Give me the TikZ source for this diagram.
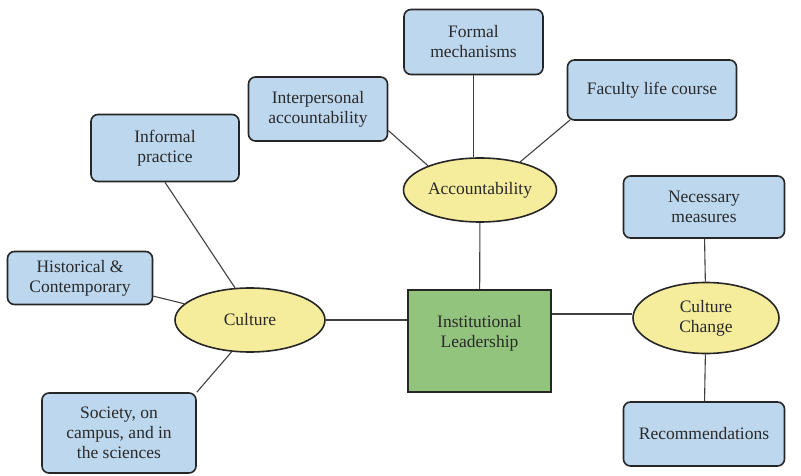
\documentclass[tikz,border=0pt]{standalone}
\usepackage{fontspec}
\setmainfont{Liberation Serif}
\usetikzlibrary{shapes.geometric}
\definecolor{boxblue}{HTML}{BDD7EE}
\definecolor{ellyel}{HTML}{F5EC9C}
\definecolor{boxgreen}{HTML}{93C47D}
\definecolor{txt}{HTML}{2A2A2A}
\begin{document}
\begin{tikzpicture}[x=1pt,y=-1pt,
  label text/.style={align=center, font=\fontsize{17.5}{20}\selectfont, text=txt},
  leaf/.style={draw=black!85, line width=1.6pt, fill=boxblue, rounded corners=7pt, label text, inner sep=0pt},
  hub/.style={draw=black!85, line width=1.6pt, fill=ellyel, ellipse, label text, inner sep=0pt},
  core/.style={draw=black!85, line width=1.8pt, fill=boxgreen, inner sep=0pt},
  link/.style={draw=black!75, line width=1.1pt}]
\useasboundingbox (0,0) rectangle (801,476);
\node[core, minimum width=143pt, minimum height=102pt] (lead) at (479.5,341) {};
\node[label text, inner sep=0pt] (leadtxt) at ([yshift=8pt]lead.center) {Institutional\\Leadership};
\node[hub, minimum width=150pt, minimum height=64pt] (cult) at (250,320) {Culture};
\node[hub, minimum width=153pt, minimum height=64pt] (acc) at (480,190) {Accountability};
\node[hub, minimum width=146pt, minimum height=71pt] (cc) at (706,318) {Culture\\Change};
\node[leaf, minimum width=139pt, minimum height=65pt] (form) at (473.5,42) {Formal\\mechanisms};
\node[leaf, minimum width=139pt, minimum height=64pt] (inter) at (318,109) {Interpersonal\\accountability};
\node[leaf, minimum width=169pt, minimum height=60pt] (fac) at (652,90) {Faculty life course};
\node[leaf, minimum width=148pt, minimum height=67pt] (inf) at (165,148) {Informal\\practice};
\node[leaf, minimum width=145pt, minimum height=53pt] (hist) at (80,278) {Historical \&\\Contemporary};
\node[leaf, minimum width=154pt, minimum height=80pt] (soc) at (119,433) {Society, on\\campus, and in\\the sciences};
\node[leaf, minimum width=161pt, minimum height=62pt] (nec) at (704,207) {Necessary\\measures};
\node[leaf, minimum width=161pt, minimum height=64pt] (rec) at (704,434) {Recommendations};
\coordinate (fbot) at (form.south);
\coordinate (facend) at (570,120);
\draw[link] (lead) -- (acc);
\draw[link] (cult.east) -- (cult.east -| lead.west);
\draw[link] (lead.east |- 0,314) -- (cc.west |- 0,314);
\draw[link] (fbot) -- (acc.north -| fbot);
\draw[link] (inter.-17) -- (acc.155);
\draw[link] (facend) -- (acc.35);
\draw[link] (inf.south) -- (cult.115);
\draw[link] (hist) -- (cult);
\draw[link] (soc.north east) -- (cult.240);
\draw[link] (nec) -- (cc);
\draw[link] (rec) -- (cc);
\end{tikzpicture}
\end{document}
